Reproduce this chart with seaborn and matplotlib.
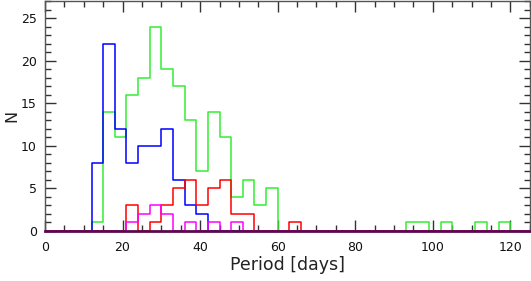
from matplotlib import pyplot as plt
from matplotlib.ticker import MultipleLocator
import seaborn as sns
import pandas as pd
import numpy as np

# Histogram counts (bins of 3 days, left edges)
green_bins = [12, 15, 18, 21, 24, 27, 30, 33, 36, 39, 42, 45, 48, 51, 54, 57, 93, 96, 102, 111, 117]
green_counts = [1, 14, 11, 16, 18, 24, 19, 17, 13, 7, 14, 11, 4, 6, 3, 5, 1, 1, 1, 1, 1]

blue_bins = [12, 15, 18, 21, 24, 27, 30, 33, 36, 39]
blue_counts = [8, 22, 12, 8, 10, 10, 12, 6, 3, 2]

red_bins = [21, 27, 30, 33, 36, 39, 42, 45, 48, 51, 63]
red_counts = [3, 1, 3, 5, 6, 3, 5, 6, 2, 2, 1]

magenta_bins = [21, 24, 27, 30, 36, 42, 48]
magenta_counts = [1, 2, 3, 2, 1, 1, 1]

bin_width = 3


def make_frame(bins, counts, name):
    df = pd.DataFrame({"Period": np.array(bins) + bin_width / 2, "N": counts})
    df["Type"] = name
    return df


new = pd.concat([
    make_frame(green_bins, green_counts, "green"),
    make_frame(blue_bins, blue_counts, "blue"),
    make_frame(red_bins, red_counts, "red"),
    make_frame(magenta_bins, magenta_counts, "magenta"),
])

sns.set_style("ticks")
plt.rcParams["font.family"] = ["DejaVu Sans"]

fig = plt.figure(figsize=(5.31, 2.81), dpi=100)
ax = fig.add_axes([0.0847, 0.178, 0.913, 0.818])

colors = {"green": "#33ee33", "blue": "#0000ff", "red": "#ff0000", "magenta": "#ff00ff"}
for name in ["green", "blue", "red", "magenta"]:
    sns.histplot(
        data=new[new["Type"] == name], x="Period", weights="N",
        binwidth=bin_width, binrange=(0, 126),
        element="step", fill=False, color=colors[name], linewidth=1.1, ax=ax,
    )

ax.set_xlim(0, 125)
ax.set_ylim(0, 27)
ax.xaxis.set_major_locator(MultipleLocator(20))
ax.xaxis.set_minor_locator(MultipleLocator(5))
ax.yaxis.set_major_locator(MultipleLocator(5))
ax.yaxis.set_minor_locator(MultipleLocator(1))
ax.tick_params(which="both", direction="in", top=True, right=True,
               color="#333333", labelsize=9, labelcolor="#111111")
ax.tick_params(which="major", length=8, width=1)
ax.tick_params(which="minor", length=4, width=1)
ax.tick_params(axis="x", which="major", pad=7)
ax.tick_params(axis="y", which="major", pad=6)
for side in ["top", "left", "right"]:
    ax.spines[side].set_color("#555555")
    ax.spines[side].set_linewidth(1)
ax.spines["bottom"].set_color("#5a0a4a")
ax.spines["bottom"].set_linewidth(2)

ax.set_xlabel("Period [days]", fontsize=12.5, color="#222222", labelpad=2)
ax.set_ylabel("N", fontsize=11.5, color="#222222")
ax.yaxis.set_label_coords(-0.052, 0.5)

plt.savefig("out.png", dpi=100)
